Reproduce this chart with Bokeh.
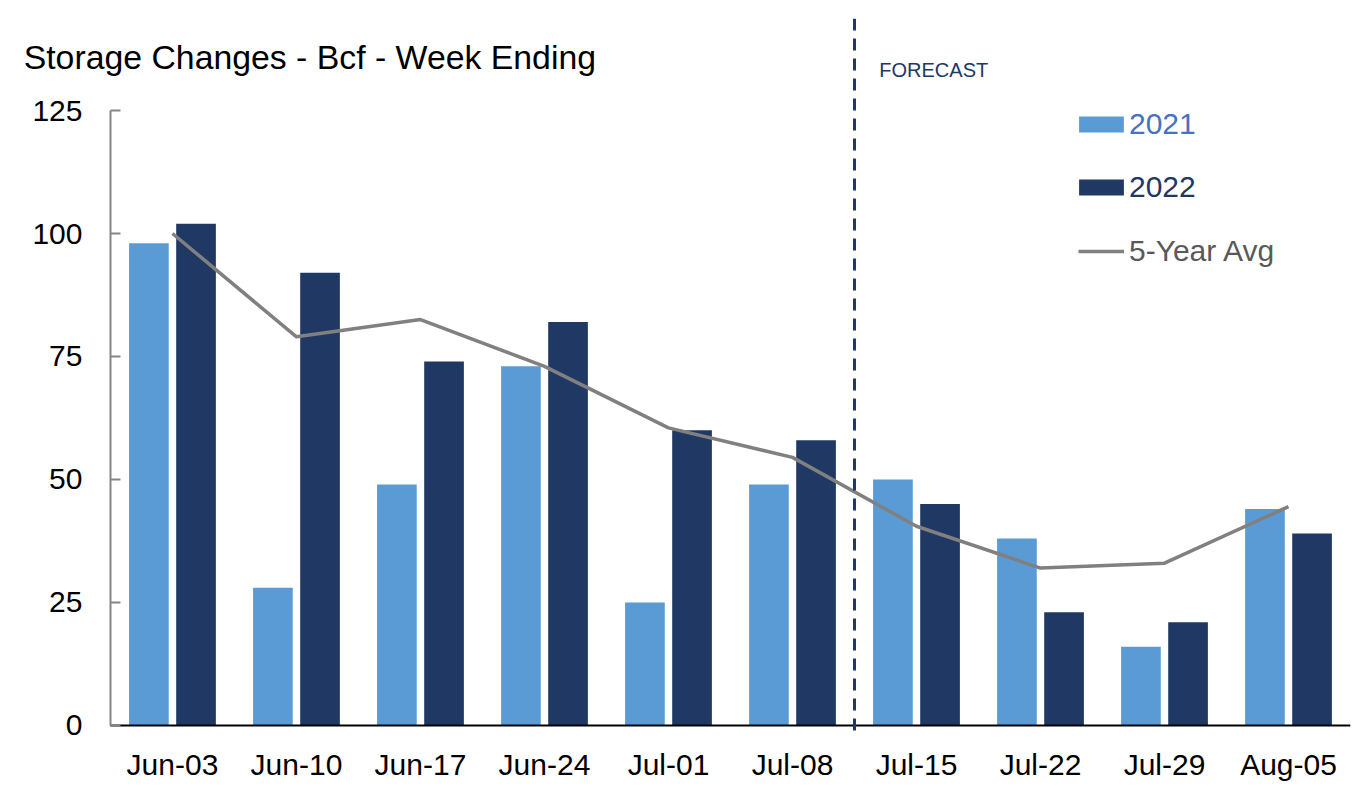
from bokeh.plotting import figure
from bokeh.models import (ColumnDataSource, Range1d, Label,
                          Legend, LegendItem, FixedTicker)
from bokeh.transform import dodge
from bokeh.embed import file_html
from bokeh.resources import INLINE

# ---------------- data ----------------
weeks = ["Jun-03", "Jun-10", "Jun-17", "Jun-24", "Jul-01",
         "Jul-08", "Jul-15", "Jul-22", "Jul-29", "Aug-05"]
storage_2021 = [98, 28, 49, 73, 25, 49, 50, 38, 16, 44]
storage_2022 = [102, 92, 74, 82, 60, 58, 45, 23, 21, 39]
avg_5yr = [100, 79, 82.5, 73, 60.5, 54.5, 40.5, 32, 33, 44.5]
y_ticks = [0, 25, 50, 75, 100, 125]
series_labels = ["2021", "2022", "5-Year Avg"]
title_text = "Storage Changes - Bcf - Week Ending"
forecast_text = "FORECAST"
forecast_start = "Jul-15"

# ---------------- styles ----------------
FONT = "Liberation Sans"
C2021 = "#5B9BD5"
C2022 = "#203864"
CAVG = "#808080"
Y_TOP = 143.7

pos = list(range(len(weeks)))  # category slots on the x scale
x_left, x_right = -0.5, len(weeks) - 0.5
src = ColumnDataSource(dict(x=pos, y2021=storage_2021,
                            y2022=storage_2022, avg=avg_5yr))

p = figure(x_range=Range1d(-1.29, x_right),
           y_range=Range1d(-3.05, Y_TOP),
           width=1356, height=796, output_backend="svg", toolbar_location=None,
           min_border_left=12, min_border_right=6,
           min_border_top=18, min_border_bottom=56)
p.outline_line_color = None
p.xgrid.grid_line_color = None
p.ygrid.grid_line_color = None
p.background_fill_color = "white"
p.border_fill_color = "white"

r21 = p.vbar(x=dodge("x", -0.19), top="y2021", width=0.32,
             source=src, fill_color=C2021, line_color=None)
r22 = p.vbar(x=dodge("x", 0.19), top="y2022", width=0.32,
             source=src, fill_color=C2022, line_color=None)
ravg = p.line(x="x", y="avg", source=src, line_color=CAVG, line_width=3.5)

# zero baseline across the category area
p.segment(x0=[x_left], x1=[x_right], y0=[0], y1=[0],
          line_color="black", line_width=2)

# forecast divider (between the last actual week and the first forecast week)
div_x = weeks.index(forecast_start) - 0.5
p.segment(x0=[div_x], x1=[div_x], y0=[-1.0], y1=[Y_TOP],
          line_color=C2022, line_width=3, line_dash="12 8")

# axes
xa = p.xaxis[0]
xa.ticker = FixedTicker(ticks=pos)
xa.major_label_overrides = {i: w for i, w in zip(pos, weeks)}
xa.axis_line_color = None
xa.major_tick_line_color = None
xa.minor_tick_line_color = None
xa.major_label_text_font = FONT
xa.major_label_text_font_size = "30px"
xa.major_label_text_color = "black"
xa.major_label_standoff = 1

ya = p.yaxis[0]
ya.fixed_location = x_left
ya.bounds = (0, 125)
ya.ticker = FixedTicker(ticks=y_ticks)
ya.axis_line_color = "#868686"
ya.axis_line_width = 2
ya.major_tick_in = 10
ya.major_tick_out = 0
ya.major_tick_line_color = "#868686"
ya.major_tick_line_width = 2
ya.minor_tick_line_color = None
ya.major_label_text_font = FONT
ya.major_label_text_font_size = "30px"
ya.major_label_text_color = "black"
ya.major_label_standoff = 28

# title and forecast label
p.add_layout(Label(x=-1.2, y=135.8, text=title_text, text_font=FONT,
                   text_font_size="33.8px", text_color="black",
                   text_baseline="middle", text_align="left"))
p.add_layout(Label(x=5.7, y=133.3, text=forecast_text, text_font=FONT,
                   text_font_size="20px", text_color=C2022,
                   text_baseline="middle", text_align="left"))

# legends: one per item so each label can take its own colour
# (frame bottom moved 9px lower than before -> y locations +9)
legend_specs = [(series_labels[0], r21, "#4472C4", (1061, 599), 56, 20, 0),
                (series_labels[1], r22, C2022, (1061, 536), 56, 20, 0),
                (series_labels[2], ravg, "#595959", (1066, 472), 46, 20, 5)]
for lbl, rend, col, loc, gw, gh, so in legend_specs:
    lg = Legend(items=[LegendItem(label=lbl, renderers=[rend])], location=loc,
                glyph_width=gw, glyph_height=gh, label_height=16,
                label_standoff=so, padding=0, margin=0, spacing=0,
                border_line_color=None, background_fill_alpha=0,
                label_text_font=FONT, label_text_font_size="30px",
                label_text_color=col)
    p.add_layout(lg)

open("out.html", "w").write(file_html(p, INLINE))
